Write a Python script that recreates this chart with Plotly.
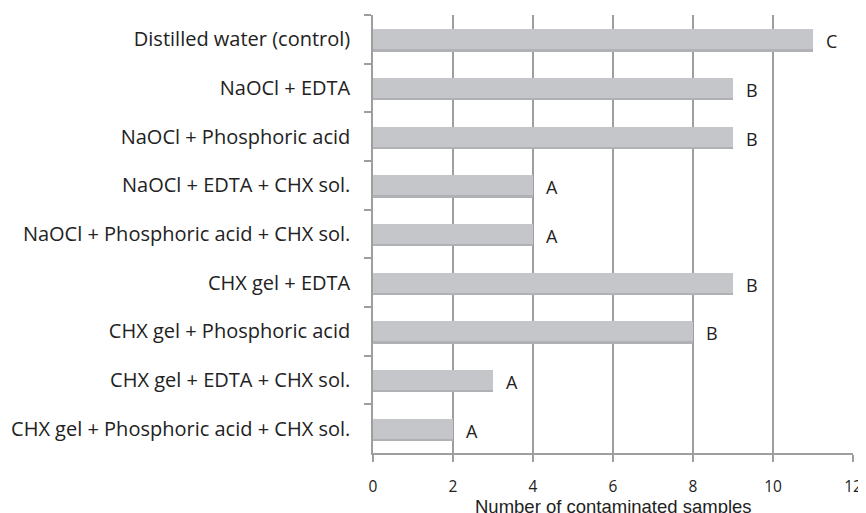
import plotly.graph_objects as go

categories = [
    "Distilled water (control)",
    "NaOCl + EDTA",
    "NaOCl + Phosphoric acid",
    "NaOCl + EDTA + CHX sol.",
    "NaOCl + Phosphoric acid + CHX sol.",
    "CHX gel + EDTA",
    "CHX gel + Phosphoric acid",
    "CHX gel + EDTA + CHX sol.",
    "CHX gel + Phosphoric acid + CHX sol.",
]
values = [11, 9, 9, 4, 4, 9, 8, 3, 2]
letters = ["C", "B", "B", "A", "A", "B", "B", "A", "A"]
x_ticks = [0, 2, 4, 6, 8, 10, 12]
x_title = "Number of contaminated samples"

LABEL_FONT = "Open Sans, Lato, sans-serif"
BAR_W = 0.41
fig = go.Figure()
# soft shadow under bars
fig.add_trace(go.Bar(
    x=values, y=categories, orientation="h",
    width=BAR_W, offset=-BAR_W / 2 + 0.05,
    marker=dict(color="#b0b1b5", line=dict(width=0)),
    hoverinfo="skip", showlegend=False,
))
fig.add_trace(go.Bar(
    x=values, y=categories, orientation="h",
    width=BAR_W, offset=-BAR_W / 2,
    marker=dict(color="#c5c6ca", line=dict(width=0)),
    showlegend=False,
))

for c, v, t in zip(categories, values, letters):
    fig.add_annotation(
        x=v, y=c, text=t, showarrow=False, xanchor="left", xshift=11, yshift=-2,
        font=dict(family=LABEL_FONT, size=18, color="#222222"),
    )

# x-axis title placed as paper annotation below tick labels
fig.add_annotation(
    x=0.5, y=-0.122, xref="paper", yref="paper", text=x_title, showarrow=False,
    xanchor="center", yanchor="middle",
    font=dict(family="Liberation Sans, Arial, sans-serif", size=18.5, color="#222222"),
)

fig.update_layout(
    template="none",
    width=858, height=505,
    margin=dict(l=365, r=13, t=7, b=60, autoexpand=False),
    plot_bgcolor="white", paper_bgcolor="white",
    barmode="overlay",
    bargap=0,
    xaxis=dict(
        automargin=False,
        range=[0, 12], tickvals=x_ticks, ticktext=[str(t) for t in x_ticks],
        showgrid=True, gridcolor="#9e9e9e", gridwidth=1.5,
        showline=True, linecolor="#9e9e9e", linewidth=1.5,
        ticks="outside", ticklen=7, tickcolor="#9e9e9e", tickwidth=1.5,
        ticklabelstandoff=12,
        zeroline=False,
        tickfont=dict(family=LABEL_FONT, size=15.5, color="#222222"),
    ),
    yaxis=dict(
        automargin=False,
        type="category", autorange="reversed",
        tickson="boundaries", ticks="outside", ticklen=7,
        tickcolor="#9e9e9e", tickwidth=1.5,
        showline=True, linecolor="#9e9e9e", linewidth=1.5,
        showgrid=False, zeroline=False,
        ticklabelstandoff=17,
        tickfont=dict(family=LABEL_FONT, size=20, color="#222222"),
    ),
)

fig.write_html("out.html")
